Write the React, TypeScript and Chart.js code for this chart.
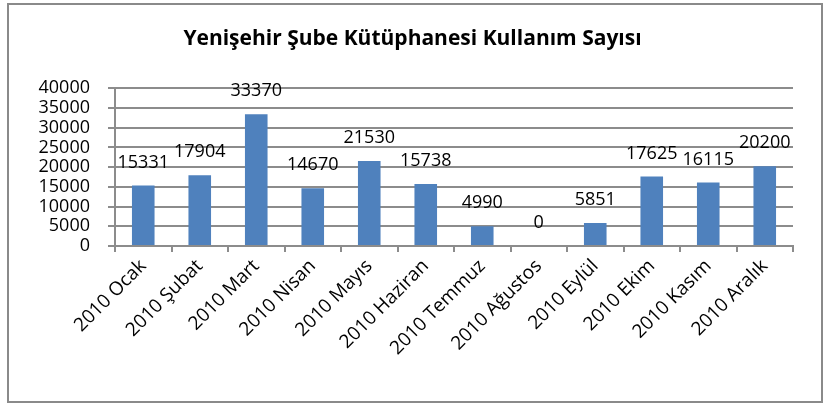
import React, { useEffect, useRef } from "react";
import { Chart, registerables } from "chart.js";

Chart.register(...registerables);

const title = "Yenişehir Şube Kütüphanesi Kullanım Sayısı";
const categories = [
  "2010 Ocak",
  "2010 Şubat",
  "2010 Mart",
  "2010 Nisan",
  "2010 Mayıs",
  "2010 Haziran",
  "2010 Temmuz",
  "2010 Ağustos",
  "2010 Eylül",
  "2010 Ekim",
  "2010 Kasım",
  "2010 Aralık",
];
const values = [15331, 17904, 33370, 14670, 21530, 15738, 4990, 0, 5851, 17625, 16115, 20200];
const yTicks = [0, 5000, 10000, 15000, 20000, 25000, 30000, 35000, 40000];

const FONT = "'Open Sans', 'Noto Sans', sans-serif";
const GRID = "#8c8c8c";
const BAR = "#4f81bd";

const labelPlugin = {
  id: "valueLabels",
  afterDatasetsDraw(chart: any) {
    const ctx = chart.ctx;
    const meta = chart.getDatasetMeta(0);
    ctx.save();
    ctx.font = `18px ${FONT}`;
    ctx.fillStyle = "#000";
    ctx.textAlign = "center";
    ctx.textBaseline = "middle";
    meta.data.forEach((el: any, i: number) => {
      const v = chart.data.datasets[0].data[i];
      ctx.fillText(String(v), el.x, el.y - 23);
    });
    ctx.restore();
  },
};

export default function App() {
  const ref = useRef<HTMLCanvasElement | null>(null);
  useEffect(() => {
    if (!ref.current) return;
    const chart = new Chart(ref.current, {
      type: "bar",
      data: {
        labels: categories,
        datasets: [
          {
            data: values,
            backgroundColor: BAR,
            borderWidth: 0,
            barPercentage: 0.4,
            categoryPercentage: 1,
          },
        ],
      },
      options: {
        animation: false,
        responsive: false,
        maintainAspectRatio: false,
        layout: { padding: { left: 23, right: 28, top: 0, bottom: 0 } },
        plugins: {
          legend: { display: false },
          tooltip: { enabled: false },
          title: {
            display: true,
            text: title,
            color: "#000",
            font: { family: FONT, size: 21, weight: "bold" },
            padding: { top: 21, bottom: 37 },
          },
        },
        scales: {
          x: {
            afterFit: (s: any) => {
              s.height = 155;
            },
            grid: {
              display: true,
              drawOnChartArea: false,
              drawTicks: true,
              tickLength: 6,
              offset: true,
              color: GRID,
              lineWidth: 2,
            },
            border: { display: true, color: GRID, width: 2 },
            ticks: {
              color: "#000",
              font: { family: FONT, size: 19 },
              maxRotation: 45,
              minRotation: 45,
              autoSkip: false,
              padding: 3,
            },
          },
          y: {
            min: 0,
            max: 40000,
            afterFit: (s: any) => {
              s.width = 83;
            },
            afterBuildTicks: (s: any) => {
              s.ticks = yTicks.map((v) => ({ value: v }));
            },
            grid: {
              color: GRID,
              lineWidth: 2,
              drawTicks: true,
              tickLength: 7,
            },
            border: { display: true, color: GRID, width: 2 },
            ticks: {
              color: "#000",
              font: { family: FONT, size: 18 },
              padding: 18,
              autoSkip: false,
              callback: (v: any) => String(v),
            },
          },
        },
      },
      plugins: [labelPlugin],
    });
    return () => chart.destroy();
  }, []);

  return (
    <div
      style={{
        position: "absolute",
        left: 7,
        top: 3,
        width: 816,
        height: 400,
        border: "2px solid #8a8a8a",
        boxSizing: "border-box",
        background: "#fff",
      }}
    >
      <canvas ref={ref} width={812} height={396} style={{ display: "block" }} />
    </div>
  );
}
